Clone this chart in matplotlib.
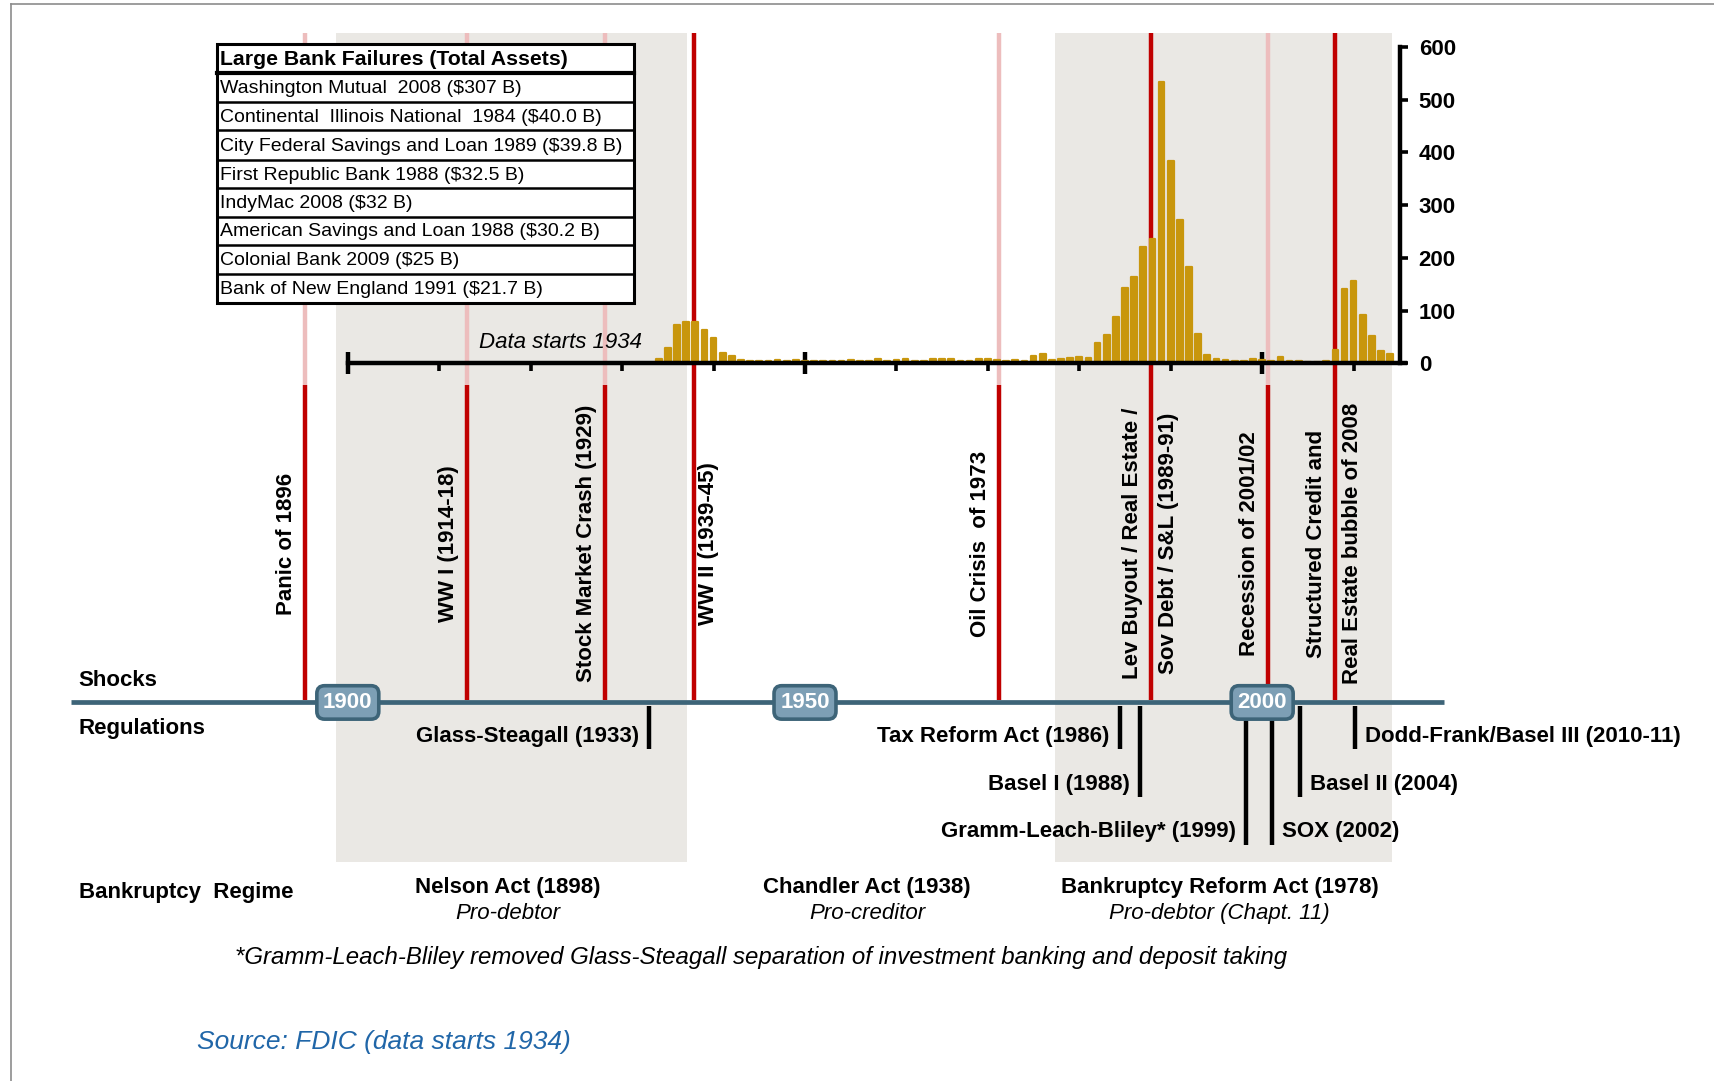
import matplotlib
matplotlib.use('Agg')
import matplotlib.pyplot as plt
from matplotlib.patches import Rectangle
from matplotlib.transforms import offset_copy

plt.rcParams['font.family'] = ['Liberation Sans', 'DejaVu Sans']

# ---------------- data ----------------
failure_years = list(range(1934, 2015))
failure_counts = [
    9, 28, 72, 79, 79, 64, 47, 20, 14, 6,            # 1934-1943
    5, 4, 4, 6, 5, 6, 5, 4, 5, 5,                    # 1944-1953
    4, 6, 4, 5, 9, 5, 6, 9, 5, 4,                    # 1954-1963
    8, 9, 8, 5, 5, 9, 8, 7, 5, 7,                    # 1964-1973
    5, 14, 17, 7, 8, 10, 11, 10, 38, 54,             # 1974-1983
    87, 142, 164, 221, 235, 534, 384, 272, 183, 55,  # 1984-1993
    15, 8, 6, 4, 5, 8, 7, 5, 11, 5,                  # 1994-2003
    5, 2, 2, 4, 25, 140, 157, 92, 51, 24,            # 2004-2013
    18]                                              # 2014
y_ticks = [0, 100, 200, 300, 400, 500, 600]
decade_ticks = [1900, 1910, 1920, 1930, 1940, 1950, 1960, 1970, 1980, 1990, 2000, 2010]
badge_years = [1900, 1950, 2000]

shock_labels = [["Panic of 1896"], ["WW I (1914-18)"], ["Stock Market Crash (1929)"],
                ["WW II (1939-45)"], ["Oil Crisis  of 1973"],
                ["Lev Buyout / Real Estate /", "Sov Debt / S&L (1989-91)"],
                ["Recession of 2001/02"],
                ["Structured Credit and", "Real Estate bubble of 2008"]]
shock_years = [1895.3, 1913.0, 1928.1, 1937.9, 1971.2, 1987.8, 2000.6, 2008.0]
shock_full_red = [False, False, False, True, False, True, False, True]
shock_label_side = ['L', 'L', 'L', 'R', 'L', 'C', 'L', 'C']

reg_labels = ["Glass-Steagall (1933)", "Tax Reform Act (1986)", "Basel I (1988)",
              "Gramm-Leach-Bliley* (1999)", "SOX (2002)", "Basel II (2004)",
              "Dodd-Frank/Basel III (2010-11)"]
reg_years = [1932.9, 1984.4, 1986.6, 1998.2, 2001.1, 2004.1, 2010.2]
reg_levels = [1, 1, 2, 3, 3, 2, 1]
reg_side = ['left', 'left', 'left', 'left', 'right', 'right', 'right']

regime_names = ["Nelson Act (1898)", "Chandler Act (1938)", "Bankruptcy Reform Act (1978)"]
regime_subs = ["Pro-debtor", "Pro-creditor", "Pro-debtor (Chapt. 11)"]
regime_start = [1898.7, 1937.1, 1977.3]
regime_end = [1937.1, 1977.3, 2014.2]
regime_shaded = [True, False, True]

table_header = "Large Bank Failures (Total Assets)"
table_rows = ["Washington Mutual  2008 ($307 B)",
              "Continental  Illinois National  1984 ($40.0 B)",
              "City Federal Savings and Loan 1989 ($39.8 B)",
              "First Republic Bank 1988 ($32.5 B)",
              "IndyMac 2008 ($32 B)",
              "American Savings and Loan 1988 ($30.2 B)",
              "Colonial Bank 2009 ($25 B)",
              "Bank of New England 1991 ($21.7 B)"]

# ---------------- layout (reference pixel units) ----------------
W, H = 1568.0, 988.0
X1900, PPY = 318.0, 8.36
S = 1715.0 / W  # output px per layout px


def yr(px):
    return 1900 + (px - X1900) / PPY


GOLD = '#C8960C'
RED = '#C00000'
PINK = '#EDBDBD'
SHADE = '#EAE8E4'
STEEL = '#3D6478'
LW = 3.2

fig = plt.figure(figsize=(17.15, 10.81), dpi=100)

# timeline axes: x in years, y in layout px
tl = fig.add_axes([0, 0, 1, 1], zorder=0)
tl.set_xlim(yr(0), yr(W))
tl.set_ylim(H, 0)
tl.axis('off')

for s, e, sh in zip(regime_start, regime_end, regime_shaded):
    if sh:
        tl.add_patch(Rectangle((s, 30), e - s, 758, fc=SHADE, ec='none', zorder=0))

for x, full, lines, side in zip(shock_years, shock_full_red, shock_labels, shock_label_side):
    tl.plot([x, x], [30, 352], color=RED if full else PINK, lw=LW, solid_capstyle='butt', zorder=1)
    tl.plot([x, x], [352, 640], color=RED, lw=LW, solid_capstyle='butt', zorder=1)
    if len(lines) == 1:
        offs = [-17] if side == 'L' else [13]
    else:
        offs = [-17, 16]
    for txt, o in zip(lines, offs):
        tl.text(x + o / PPY, 497, txt, rotation=90, ha='center', va='center',
                fontsize=16, fontweight='bold')

tl.plot([yr(65), yr(1320)], [642, 642], color=STEEL, lw=3.4, solid_capstyle='butt', zorder=3)
for b in badge_years:
    tl.text(b, 642, str(b), ha='center', va='center', color='white', fontsize=16,
            fontweight='bold', zorder=4,
            bbox=dict(boxstyle='round,pad=0.28,rounding_size=0.35', fc='#7D9FB5', ec=STEEL, lw=2.6))

level_end = {1: 685, 2: 728, 3: 772}
level_text = {1: 673, 2: 717, 3: 760}
for lab, x, lv, side in zip(reg_labels, reg_years, reg_levels, reg_side):
    tl.plot([x, x], [645, level_end[lv]], color='black', lw=LW, solid_capstyle='butt', zorder=2)
    if side == 'left':
        tr = offset_copy(tl.transData, fig=fig, x=-9 * S, y=0, units='dots')
        tl.text(x, level_text[lv], lab, ha='right', va='center', fontsize=16,
                fontweight='bold', transform=tr)
    else:
        tr = offset_copy(tl.transData, fig=fig, x=9 * S, y=0, units='dots')
        tl.text(x, level_text[lv], lab, ha='left', va='center', fontsize=16,
                fontweight='bold', transform=tr)

for name, sub, s, e in zip(regime_names, regime_subs, regime_start, regime_end):
    m = (s + e) / 2 - 0.4
    tl.text(m, 811, name, ha='center', va='center', fontsize=16, fontweight='bold')
    tl.text(m, 835, sub, ha='center', va='center', fontsize=16, style='italic')

# bar axes
ba = fig.add_axes([0, 1 - 332 / H, 1, 289 / H], zorder=1)
ba.set_xlim(yr(0), yr(W))
ba.set_ylim(0, 600)
ba.patch.set_visible(False)
ba.bar(failure_years, failure_counts, width=0.62, color=GOLD, edgecolor=GOLD,
       linewidth=1.6, joinstyle='round', zorder=2)
ba.spines['top'].set_visible(False)
ba.spines['left'].set_visible(False)
ba.spines['bottom'].set_bounds(1900, yr(1285))
ba.spines['bottom'].set_linewidth(LW)
ba.spines['bottom'].set_zorder(3)
ba.spines['right'].set_position(('data', yr(1280)))
ba.spines['right'].set_bounds(0, 600)
ba.spines['right'].set_linewidth(LW)
ba.set_xticks(badge_years)
ba.set_xticks([d for d in decade_ticks if d not in badge_years], minor=True)
ba.tick_params(axis='x', which='major', direction='inout', length=16, width=LW, labelbottom=False)
ba.tick_params(axis='x', which='minor', direction='out', length=6, width=2.6)
ba.yaxis.tick_right()
ba.set_yticks(y_ticks)
ba.tick_params(axis='y', direction='out', length=5.5, width=2.6, labelsize=16, pad=8)
for t in ba.get_yticklabels():
    t.set_fontweight('bold')

# overlay axes in layout px
ov = fig.add_axes([0, 0, 1, 1], zorder=2)
ov.set_xlim(0, W)
ov.set_ylim(H, 0)
ov.axis('off')
ov.patch.set_visible(False)

ov.plot([10, W], [4, 4], color='#8C8C8C', lw=1.2)
ov.plot([10, 10], [4, H], color='#8C8C8C', lw=1.2)

ov.text(587, 313, 'Data starts 1934', ha='right', va='center', style='italic', fontsize=16)

# table
tx0, tx1, ty0, ty1 = 198, 580, 40, 277
ov.add_patch(Rectangle((tx0, ty0), tx1 - tx0, ty1 - ty0, fc='white', ec='black', lw=2.2, zorder=5))
row_edges = [40, 67, 93, 119, 146, 172, 198, 224, 250, 277]
for i, yv in enumerate(row_edges[1:-1]):
    ov.plot([tx0, tx1], [yv, yv], color='black', lw=3.0 if i == 0 else 1.8, zorder=6)
texts = [table_header] + table_rows
for i, t in enumerate(texts):
    yc = (row_edges[i] + row_edges[i + 1]) / 2 + 1
    ov.text(tx0 + 3, yc, t, ha='left', va='center', fontsize=15.3 if i == 0 else 14,
            fontweight='bold' if i == 0 else 'normal', zorder=7)

ov.text(72, 622, 'Shocks', ha='left', va='center', fontsize=16, fontweight='bold')
ov.text(72, 666, 'Regulations', ha='left', va='center', fontsize=16, fontweight='bold')
ov.text(72, 816, 'Bankruptcy  Regime', ha='left', va='center', fontsize=16, fontweight='bold')
ov.text(215, 875, '*Gramm-Leach-Bliley removed Glass-Steagall separation of investment banking and deposit taking',
        ha='left', va='center', fontsize=17.3, style='italic')
ov.text(180, 952, 'Source: FDIC (data starts 1934)', ha='left', va='center', fontsize=19,
        style='italic', color='#2066A8')

fig.savefig('out.png', dpi=100)
